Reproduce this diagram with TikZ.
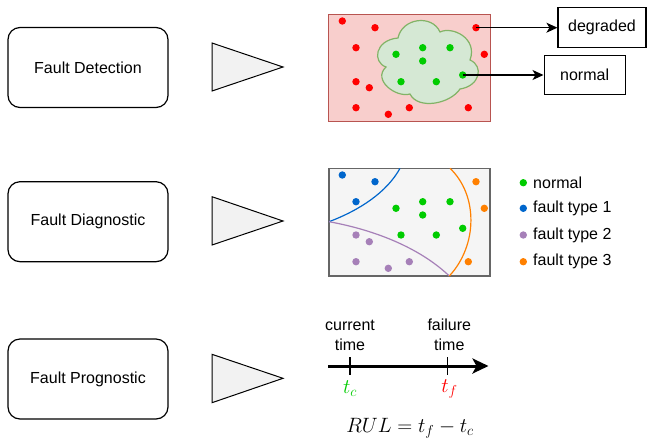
\documentclass[tikz,border=0pt]{standalone}
\usepackage{fontspec}
\setmainfont{Liberation Sans}
\usetikzlibrary{arrows.meta}
\definecolor{redfill}{HTML}{F8CECC}
\definecolor{redline}{HTML}{B85450}
\definecolor{grnfill}{HTML}{D5E8D4}
\definecolor{grnline}{HTML}{82B366}
\definecolor{grayfill}{HTML}{F5F5F5}
\definecolor{grayline}{HTML}{666666}
\definecolor{trifill}{HTML}{F2F2F2}
\definecolor{dotred}{HTML}{FF0000}
\definecolor{dotgreen}{HTML}{00CC00}
\definecolor{dotblue}{HTML}{0066CC}
\definecolor{dotpurple}{HTML}{A680B8}
\definecolor{dotorange}{HTML}{FF8000}
\tikzset{
  txt/.style={font=\fontsize{16}{20}\selectfont},
  stage/.style={draw=black, line width=1.2pt, rounded corners=12pt, minimum width=160pt,
    minimum height=80pt, inner sep=0pt, txt},
  pointer/.style={fill=trifill, draw=black, line width=1pt, line join=miter},
  dot/.style={circle, fill=#1, inner sep=0pt, minimum size=7.4pt},
  labelbox/.style={draw=black, line width=1.2pt, inner sep=0pt, txt},
  link/.style={draw=black, line width=1.2pt, -{Stealth[length=11pt,width=10pt,inset=3pt]}},
  tick/.style={draw=black, line width=1.3pt},
  legendtxt/.style={anchor=west, txt, inner sep=0pt},
  mathlbl/.style={font=\fontsize{21}{24}\selectfont, inner sep=0pt},
}
\begin{document}
\begin{tikzpicture}[x=1pt, y=-1pt]
\path[use as bounding box] (0,0) rectangle (647,440);

% ---- stage boxes ----
\node[stage] (det)  at (88,67.5)  {Fault Detection};
\node[stage] (diag) at (88,221.7) {Fault Diagnostic};
\node[stage] (prog) at (88,379)   {Fault Prognostic};

% ---- pointers ----
\draw[pointer] (212,43) -- (283,67) -- (212,91) -- cycle;
\draw[pointer] (212,196.7) -- (283,221) -- (212,245) -- cycle;
\draw[pointer] (212,354.3) -- (283,378.3) -- (212,402.7) -- cycle;

% ---- detection panel ----
\draw[fill=redfill, draw=redline, line width=1pt] (328.5,14) rectangle (490.5,121.5);
\draw[fill=grnfill, draw=grnline, line width=1.2pt]
  (386,67) .. controls (372,62) and (375,40) .. (398,38)
  .. controls (402,18) and (432,14) .. (440,32)
  .. controls (452,26) and (478,38) .. (470,60)
  .. controls (484,66) and (480,86) .. (460,89)
  .. controls (450,104) and (418,110) .. (410,94)
  .. controls (396,98) and (372,80) .. cycle;

\foreach \px/\py [count=\i] in {342.3/21, 375/27.7, 356/47.7, 484.3/54.3, 356/81.7,
    369.3/87.7, 356/107.7, 409.3/107.7, 468.3/107.7, 388.3/114.3}
  \node[dot=dotred] (r\i) at (\px,\py) {};
\node[dot=dotred] (rdeg) at (476,27.7) {};
\foreach \px/\py [count=\i] in {396/54.3, 422.7/47.7, 450/47.7, 422.7/61, 401/81.7, 436.3/81.7}
  \node[dot=dotgreen] (g\i) at (\px,\py) {};
\node[dot=dotgreen] (gnorm) at (462.7,75) {};

\node[labelbox, minimum width=88pt, minimum height=40pt] (degraded) at (602,27.7) {degraded};
\node[labelbox, minimum width=81pt, minimum height=39.5pt] (normal) at (584.6,75) {normal};
\draw[link] (rdeg.center) -- (degraded.west);
\draw[link] (gnorm.center) -- (normal.west);

% ---- diagnostic panel ----
\draw[fill=grayfill, draw=grayline, line width=1.2pt] (329,168.3) rectangle (490,276);
\coordinate (lm) at (329,221.7);
\coordinate (tp) at (400,168.3);
\coordinate (bp) at (449.3,276);
\coordinate (tq) at (450,168.3);
\draw[dotblue, line width=1.2pt] (lm) .. controls (360,210) and (387,192) .. (tp);
\draw[dotpurple, line width=1.2pt] (lm) .. controls (375,230) and (420,248) .. (bp);
\draw[dotorange, line width=1.2pt] (tq) .. controls (478,195) and (478,245) .. (bp);

\foreach \px/\py [count=\i] in {342.3/175, 375/181.7, 356/201.7}
  \node[dot=dotblue] (b\i) at (\px,\py) {};
\foreach \px/\py [count=\i] in {396/208.3, 422.7/201.7, 450/201.7, 422.7/215, 462.7/228.3, 401/235, 436.3/235}
  \node[dot=dotgreen] (n\i) at (\px,\py) {};
\foreach \px/\py [count=\i] in {356/235, 369.3/241.7, 356/261.7, 409.3/261.7, 388.3/268.3}
  \node[dot=dotpurple] (p\i) at (\px,\py) {};
\foreach \px/\py [count=\i] in {476/181.7, 484.3/208.3, 468.3/261.7}
  \node[dot=dotorange] (o\i) at (\px,\py) {};

% legend
\node[dot=dotgreen]  (k1) at (523.3,182.7) {};
\node[dot=dotblue]   (k2) at (523.3,208.3) {};
\node[dot=dotpurple] (k3) at (523.3,235) {};
\node[dot=dotorange] (k4) at (523.3,261.7) {};
\node[legendtxt] (kt1) at (533,182.7) {normal};
\node[legendtxt] (kt2) at (533,208.3) {fault type 1};
\node[legendtxt] (kt3) at (533,235) {fault type 2};
\node[legendtxt] (kt4) at (533,261.7) {fault type 3};

% ---- prognostic timeline ----
\coordinate (t0) at (328,366);
\coordinate (t1) at (488.5,366);
\draw[line width=3pt, -{Stealth[length=16pt,width=15pt,inset=4pt]}] (t0) -- (t1);
\coordinate (tc) at (350,366);
\coordinate (tf) at (447.7,366);
\draw[tick] ([yshift=-8.5pt]tc) -- ([yshift=9pt]tc);
\draw[tick] ([yshift=-8.5pt]tf) -- ([yshift=9pt]tf);
\node[txt, align=center, inner sep=0pt] (cur) at (350,335) {current\\time};
\node[txt, align=center, inner sep=0pt] (fail) at (449.3,335) {failure\\time};
\node[mathlbl, text=dotgreen] (tcl) at (350,389) {$t_c$};
\node[mathlbl, text=dotred] (tfl) at (449.5,389) {$t_f$};
\node[mathlbl, font=\fontsize{22}{26}\selectfont] (rul) at (410,428) {$RUL = t_f - t_c$};
\end{tikzpicture}
\end{document}
